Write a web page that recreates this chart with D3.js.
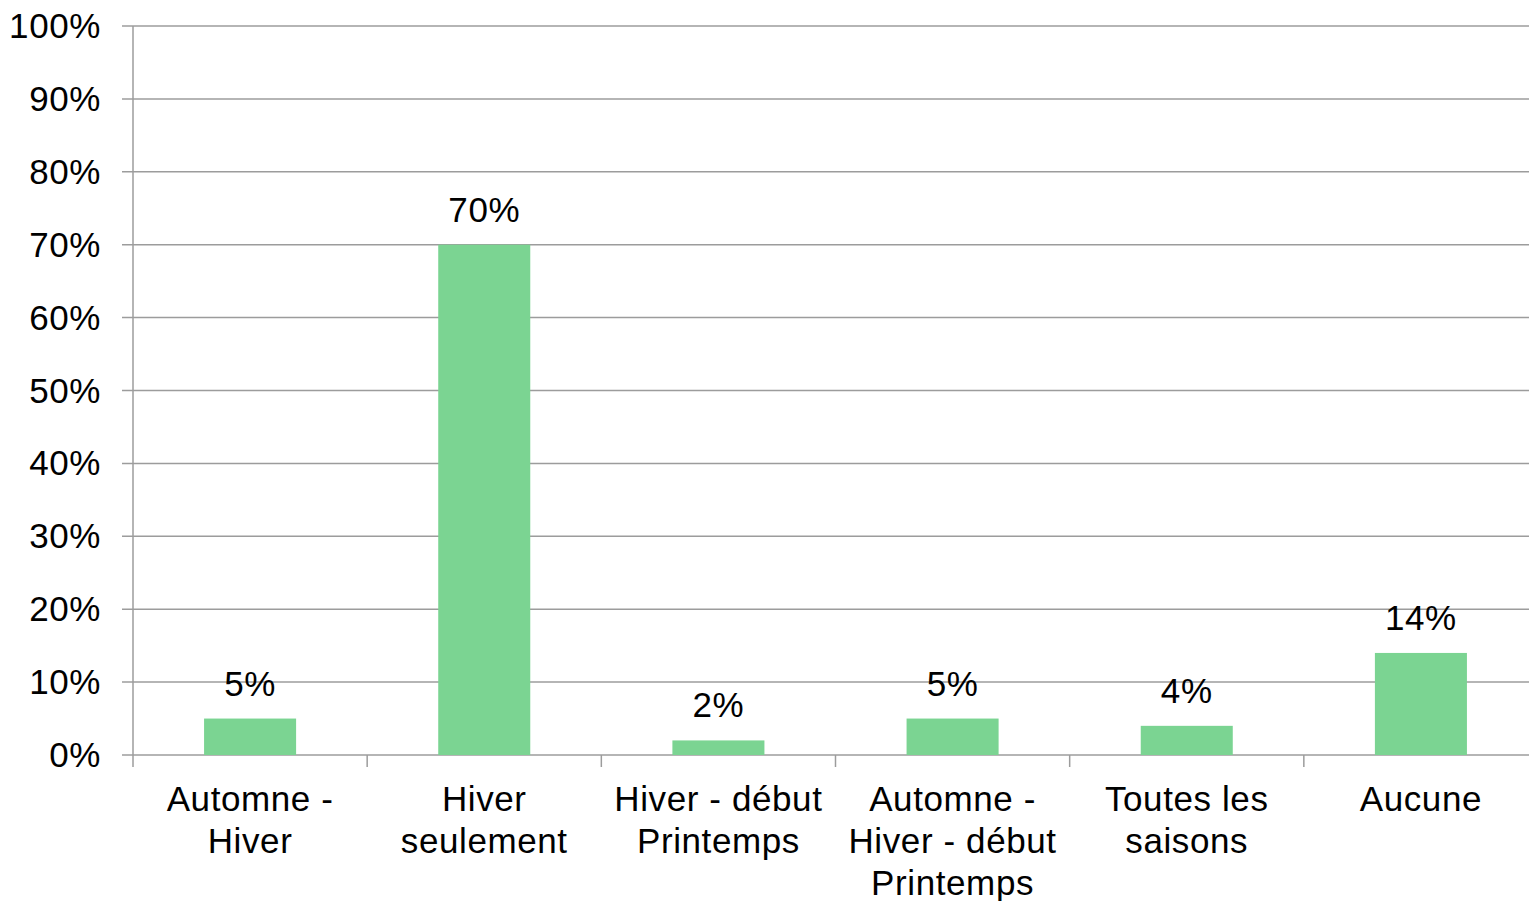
<!DOCTYPE html>
<html>
<head>
<meta charset="utf-8">
<title>Saisons</title>
<script src="https://cdn.jsdelivr.net/npm/d3@7/dist/d3.min.js"></script>
<style>
body { margin: 0; background: #fff; }
text { font-family: "Liberation Sans", Arial, sans-serif; fill: #000; letter-spacing: 0.6px; }
.grid line { stroke: #9c9c9c; stroke-width: 1.5; }
.axis path, .axis line { stroke: #9c9c9c; stroke-width: 1.5; fill: none; }
</style>
</head>
<body>
<div id="grafico"></div>
<script>
// categories (one entry per line of the label)
var categorias = [
	["Automne -", "Hiver"],
	["Hiver", "seulement"],
	["Hiver - début", "Printemps"],
	["Automne -", "Hiver - début", "Printemps"],
	["Toutes les", "saisons"],
	["Aucune"]
];
var valores = [5, 70, 2, 5, 4, 14];
var yTicks = [0, 10, 20, 30, 40, 50, 60, 70, 80, 90, 100];

var margin = {top: 26, left: 133},
	width = 1405,
	height = 729;

var svg = d3.select("#grafico").append("svg")
	.attr("width", 1529)
	.attr("height", 901)
  .append("g")
	.attr("transform", "translate(" + margin.left + "," + margin.top + ")");

var x = d3.scaleBand()
	.domain(d3.range(categorias.length))
	.range([0, width])
	.paddingInner(0.607)
	.paddingOuter(0.3035);

var y = d3.scaleLinear()
	.domain([0, 100])
	.range([height, 0]);

// gridlines
svg.append("g")
	.attr("class", "grid")
	.selectAll("line")
	.data(yTicks)
  .enter().append("line")
	.attr("x1", -11)
	.attr("x2", width)
	.attr("y1", function(d) { return y(d); })
	.attr("y2", function(d) { return y(d); });

// y axis
var yAxis = svg.append("g")
	.attr("class", "axis")
	.call(d3.axisLeft(y).tickValues(yTicks).tickSize(0).tickPadding(32)
		.tickFormat(function(d) { return d + "%"; }));
yAxis.select(".domain").remove();
yAxis.selectAll("text").style("font-size", "35px").attr("dy", "0.33em");
svg.append("line")
	.attr("x1", 0).attr("x2", 0)
	.attr("y1", 0).attr("y2", height + 12)
	.style("stroke", "#9c9c9c").style("stroke-width", 1.5);

// x ticks at category boundaries
var step = x.step();
svg.append("g")
	.attr("class", "axis")
	.selectAll("line")
	.data(d3.range(1, categorias.length + 1))
  .enter().append("line")
	.attr("x1", function(d) { return d * step; })
	.attr("x2", function(d) { return d * step; })
	.attr("y1", height)
	.attr("y2", height + 12);

// bars
svg.selectAll(".barra")
	.data(valores)
  .enter().append("rect")
	.attr("class", "barra")
	.attr("x", function(d, i) { return x(i); })
	.attr("width", x.bandwidth())
	.attr("y", function(d) { return y(d); })
	.attr("height", function(d) { return height - y(d); })
	.style("fill", "#7bd492");

// value labels
svg.selectAll(".etiqueta")
	.data(valores)
  .enter().append("text")
	.attr("class", "etiqueta")
	.attr("x", function(d, i) { return x(i) + x.bandwidth() / 2; })
	.attr("y", function(d) { return y(d) - 23; })
	.attr("text-anchor", "middle")
	.style("font-size", "35px")
	.text(function(d) { return d + "%"; });

// category labels
var cat = svg.selectAll(".categoria")
	.data(categorias)
  .enter().append("text")
	.attr("class", "categoria")
	.attr("text-anchor", "middle")
	.style("font-size", "35px");
cat.selectAll("tspan")
	.data(function(d, i) { return d.map(function(t) { return {t: t, i: i}; }); })
  .enter().append("tspan")
	.attr("x", function(d) { return x(d.i) + x.bandwidth() / 2; })
	.attr("y", function(d, j) { return height + 56 + j * 42; })
	.text(function(d) { return d.t; });
</script>
</body>
</html>
